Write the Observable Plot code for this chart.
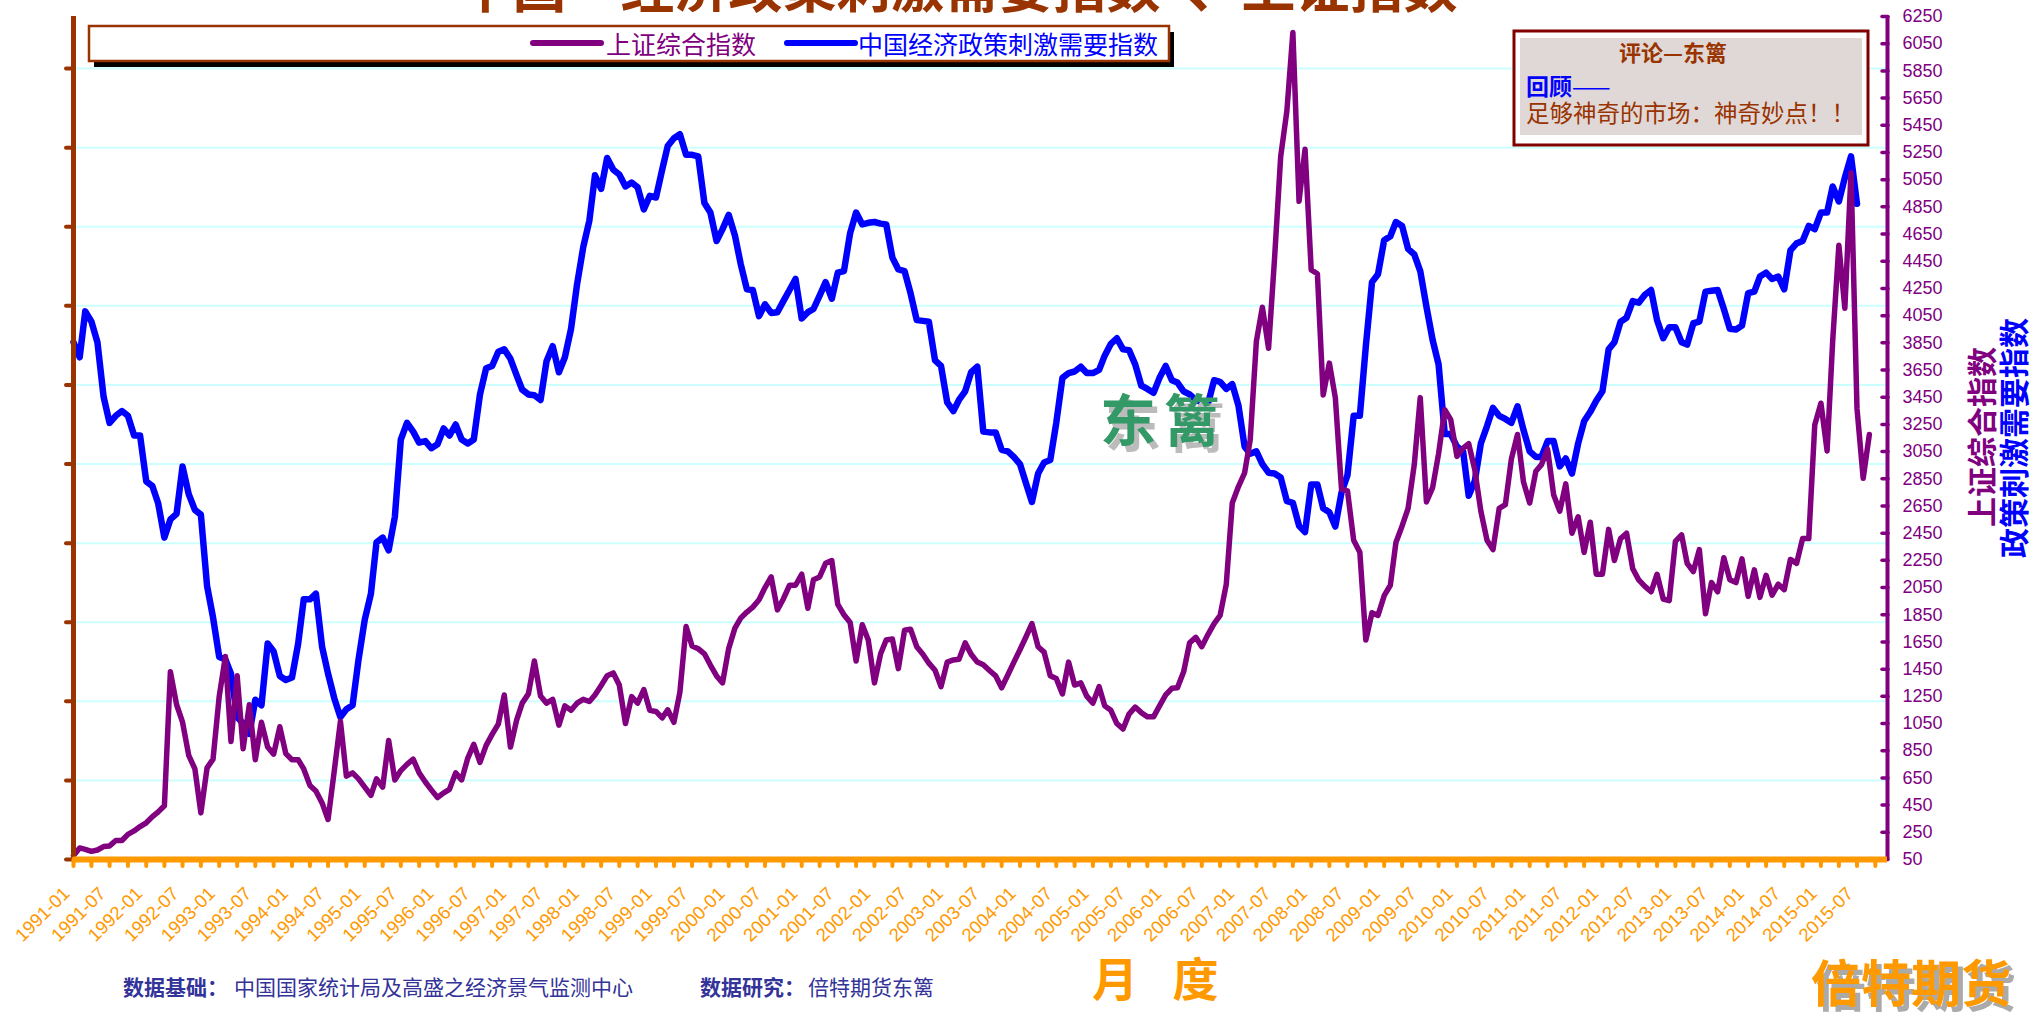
<!DOCTYPE html>
<html><head><meta charset="utf-8">
<script src="https://cdn.jsdelivr.net/npm/d3@7"></script>
<script src="https://cdn.jsdelivr.net/npm/@observablehq/plot@0.6"></script>
<style>
html,body{margin:0;padding:0;background:#fff;}
#chart{position:relative;width:2030px;height:1013px;overflow:hidden;background:#fff;}
</style></head><body><div id="chart"></div>
<script>
// ---------- data ----------
const startMonth = "1991-01";
// 上证综合指数, monthly from 1991-01
const sseValues = [
  80,135,125,110,120,145,150,190,190,235,260,292,
  320,365,400,445,1430,1190,1060,816,716,393,724,788,
  1250,1543,917,1401,865,1188,784,1059,877,825,1026,829,
  784,784,716,595,554,466,344,700,1067,663,687,643,
  582,522,643,582,925,635,704,750,788,687,620,562,
  506,540,566,687,635,796,897,764,889,970,1046,1260,
  877,1075,1200,1268,1510,1252,1200,1228,1038,1180,1147,1200,
  1228,1212,1260,1330,1401,1422,1333,1050,1248,1200,1300,1147,
  1139,1091,1151,1059,1280,1764,1620,1600,1563,1480,1400,1349,
  1603,1752,1825,1870,1906,1960,2050,2128,1886,1966,2067,2067,
  2148,1898,2108,2128,2228,2249,1926,1850,1793,1510,1777,1664,
  1349,1563,1664,1672,1454,1736,1744,1615,1560,1494,1442,1321,
  1502,1518,1522,1643,1560,1502,1482,1440,1401,1313,1407,1500,
  1593,1690,1785,1615,1575,1401,1381,1268,1502,1333,1349,1252,
  1200,1321,1180,1147,1050,1010,1119,1171,1130,1099,1099,1180,
  1260,1309,1313,1430,1643,1684,1615,1704,1785,1845,2075,2672,
  2793,2894,3136,3862,4112,3810,4467,5222,5556,6133,4891,5274,
  4386,4358,3467,3701,3447,2773,2761,2398,2309,1664,1865,1845,
  1990,2067,2382,2503,2632,2954,3447,2680,2785,3035,3358,3285,
  3015,3076,3108,2914,2612,2398,2329,2632,2660,2995,3176,2826,
  2672,2906,2954,3067,2733,2612,2813,2450,2571,2309,2531,2148,
  2148,2478,2249,2410,2450,2188,2107,2059,2019,2148,1966,1954,
  2390,2438,2228,2168,2329,1857,2087,2019,2269,2107,2087,2261,
  1986,2180,1978,2140,1994,2075,2035,2257,2228,2410,2410,3245,
  3406,3055,3862,4568,4104,5101,3366,2854,3176
];
// 中国经济政策刺激需要指数 (left axis, unlabeled), monthly from 1991-01
const policyValues = [
  65.4,63.5,69.3,68.0,65.4,58.5,55.2,56.1,56.7,56.1,53.6,53.6,
  47.8,47.2,45.0,40.7,43.0,43.7,49.7,46.2,44.2,43.6,34.6,30.6,
  25.6,25.3,23.5,18.0,17.2,15.9,20.2,19.5,27.3,26.3,23.2,22.7,
  23.0,27.3,32.9,32.9,33.6,26.9,23.5,20.4,18.0,19.0,19.5,25.3,
  30.3,33.6,40.1,40.7,39.1,43.3,53.1,55.2,54.1,52.7,52.9,52.0,
  52.5,54.5,53.6,55.0,53.1,52.6,53.1,58.8,62.1,62.4,64.2,64.5,
  63.3,61.2,59.4,58.8,58.7,58.1,63.0,64.9,61.6,63.5,67.1,72.7,
  77.4,80.8,86.5,84.8,88.7,87.2,86.6,85.1,85.6,85.0,82.2,83.9,
  83.7,87.2,90.2,91.2,91.7,89.1,89.1,88.9,83.0,81.8,78.2,79.7,
  81.5,78.9,75.3,72.1,72.0,68.7,70.2,69.1,69.2,70.6,72.0,73.4,
  68.4,69.2,69.6,71.3,73.0,70.9,74.2,74.4,79.2,81.8,80.3,80.5,
  80.6,80.4,80.3,76.1,74.6,74.4,71.6,68.2,68.1,68.0,63.1,62.4,
  57.8,56.7,58.1,59.2,61.6,62.3,54.1,54.0,54.0,51.8,51.6,50.9,
  50.0,47.5,45.2,48.8,50.2,50.5,55.2,60.9,61.5,61.7,62.3,61.5,
  61.5,61.9,63.7,65.2,65.9,64.5,64.4,62.6,59.9,59.5,59.0,60.9,
  62.4,60.6,60.3,59.2,58.8,58.1,57.8,57.6,60.6,60.4,59.5,60.1,
  57.4,52.2,51.3,51.6,50.0,48.9,48.8,48.3,45.3,45.1,42.2,41.4,
  47.4,47.4,44.4,43.9,42.1,46.4,48.6,56.1,56.1,64.9,73.0,74.0,
  78.3,78.8,80.6,80.1,77.2,76.5,74.4,69.9,65.7,62.6,53.8,53.8,
  52.2,51.6,46.0,47.9,52.6,54.8,57.1,56.1,55.7,55.2,57.3,54.3,
  51.6,50.9,50.9,52.9,52.9,49.7,50.7,48.8,52.6,55.4,56.6,58.0,
  59.2,64.5,65.4,68.0,68.5,70.6,70.4,71.4,72.0,68.2,65.9,67.3,
  67.3,65.4,65.1,67.8,68.0,71.8,71.9,72.0,69.6,67.1,67.0,67.5,
  71.6,71.8,73.7,74.2,73.4,73.7,72.1,77.0,77.9,78.2,80.1,79.7,
  81.8,81.8,85.1,83.2,86.2,88.9,82.9
];
const tickLabels = [
  "1991-01","1991-07","1992-01","1992-07","1993-01","1993-07","1994-01","1994-07",
  "1995-01","1995-07","1996-01","1996-07","1997-01","1997-07","1998-01","1998-07",
  "1999-01","1999-07","2000-01","2000-07","2001-01","2001-07","2002-01","2002-07",
  "2003-01","2003-07","2004-01","2004-07","2005-01","2005-07","2006-01","2006-07",
  "2007-01","2007-07","2008-01","2008-07","2009-01","2009-07","2010-01","2010-07",
  "2011-01","2011-07","2012-01","2012-07","2013-01","2013-07","2014-01","2014-07",
  "2015-01","2015-07"
];
const rightTicks = [50,250,450,650,850,1050,1250,1450,1650,1850,2050,2250,2450,2650,2850,3050,
  3250,3450,3650,3850,4050,4250,4450,4650,4850,5050,5250,5450,5650,5850,6050,6250];
const leftTicks = [0,10,20,30,40,50,60,70,80,90,100];
const endMonth = "2015-12";

// ---------- tables ----------
const parseMonth = d3.utcParse("%Y-%m");
const t0 = parseMonth(startMonth);
const t1 = parseMonth(endMonth);
const leftToRight = v => 50 + v * 58.17;  // left (unlabeled) axis -> right axis units
const sseTable = sseValues.map((v, i) => ({date: d3.utcMonth.offset(t0, i), value: v}));
const policyTable = policyValues.map((v, i) => ({date: d3.utcMonth.offset(t0, i), value: leftToRight(v)}));
const labelDates = tickLabels.map(parseMonth);
const quarterDates = d3.utcMonth.every(3).range(t0, t1);
const leftTickPos = leftTicks.map(leftToRight);

const LAT = "Liberation Sans, Arial, sans-serif";
const CJK = "Noto Sans CJK SC, sans-serif";

const W = 2030, H = 1013;
const chart = Plot.plot({
  width: W, height: H,
  marginLeft: 73, marginRight: 143, marginTop: 16, marginBottom: 154,
  style: {background: "#fff", fontFamily: LAT, overflow: "visible"},
  x: {type: "utc", domain: [t0, t1], axis: null},
  y: {domain: [50, 6250], axis: null},
  marks: [
    Plot.gridY(leftTickPos, {stroke: "#CCFFFF", strokeOpacity: 1, strokeWidth: 2}),
    Plot.line(policyTable, {x: "date", y: "value", stroke: "#0000FF", strokeWidth: 6.5, strokeLinejoin: "round", strokeLinecap: "round"}),
    Plot.line(sseTable, {x: "date", y: "value", stroke: "#800080", strokeWidth: 5.5, strokeLinejoin: "round", strokeLinecap: "round"}),
    // left axis (no labels)
    Plot.ruleX([t0], {y1: 50, y2: 6250, stroke: "#993300", strokeWidth: 5}),
    Plot.axisY(leftTickPos, {anchor: "left", tickSize: 7, tickFormat: () => "", stroke: "#993300", strokeWidth: 4, strokeLinecap: "round", label: null}),
    // right axis
    Plot.ruleX([t1], {y1: 50, y2: 6250, stroke: "#800080", strokeWidth: 4}),
    Plot.axisY(rightTicks, {anchor: "right", tickSize: -6, tickPadding: 21, stroke: "#800080", fill: "#800080", strokeWidth: 3.5, strokeLinecap: "round", fontSize: 18, tickFormat: d => String(d), label: null}),
    // x axis
    Plot.axisX(quarterDates, {anchor: "bottom", tickSize: 7, tickFormat: () => "", stroke: "#FF9900", strokeWidth: 4, strokeLinecap: "round", label: null}),
    Plot.ruleY([50], {stroke: "#FF9900", strokeWidth: 6}),
    Plot.axisX(labelDates, {anchor: "bottom", tickSize: 0, tickPadding: 31, dx: -7, tickRotate: -45, tickFormat: d3.utcFormat("%Y-%m"), fill: "#FF9900", fontSize: 18.5, label: null})
  ]
});
document.getElementById("chart").appendChild(chart);

// ---------- decorations (title, legend, notes) ----------
const svg = d3.select(chart);
const g = svg.append("g").attr("text-anchor", "start");

// cut-off title at top
g.append("text").attr("x", 958).attr("y", 8).attr("text-anchor", "middle")
  .attr("font-family", CJK).attr("font-weight", "bold").attr("font-size", 54)
  .attr("fill", "#993300").text("中国‘经济政策刺激需要指数’、上证指数");

// legend
g.append("rect").attr("x", 94).attr("y", 32).attr("width", 1080).attr("height", 35).attr("fill", "#000");
g.append("rect").attr("x", 89).attr("y", 26).attr("width", 1080).attr("height", 35)
  .attr("fill", "#fff").attr("stroke", "#993300").attr("stroke-width", 2.5);
const legendItems = [
  {x1: 533, x2: 601, tx: 606, color: "#800080", label: "上证综合指数"},
  {x1: 787, x2: 855, tx: 858, color: "#0000FF", label: "中国经济政策刺激需要指数"}
];
legendItems.forEach(d => {
  g.append("line").attr("x1", d.x1).attr("x2", d.x2).attr("y1", 43).attr("y2", 43)
    .attr("stroke", d.color).attr("stroke-width", 6).attr("stroke-linecap", "round");
  g.append("text").attr("x", d.tx).attr("y", 43).attr("dominant-baseline", "central")
    .attr("font-family", CJK).attr("font-size", 25).attr("fill", d.color).text(d.label);
});

// comment box
g.append("rect").attr("x", 1514).attr("y", 31).attr("width", 354).attr("height", 114)
  .attr("fill", "#fff").attr("stroke", "#800000").attr("stroke-width", 3);
g.append("rect").attr("x", 1520).attr("y", 38).attr("width", 342).attr("height", 97).attr("fill", "#E0D8D6");
g.append("text").attr("x", 1673).attr("y", 61).attr("text-anchor", "middle")
  .attr("font-family", CJK).attr("font-weight", "bold").attr("font-size", 22).attr("fill", "#993300").text("评论—东篱");
const rv = g.append("text").attr("x", 1526).attr("y", 95).attr("font-family", CJK).attr("font-size", 23).attr("fill", "#0000FF");
rv.append("tspan").attr("font-weight", "bold").text("回顾");
rv.append("tspan").text("——");
g.append("text").attr("x", 1526).attr("y", 122).attr("font-family", CJK).attr("font-size", 23.5)
  .attr("fill", "#993300").text("足够神奇的市场：神奇妙点！！");

// right axis titles (vertical)
g.append("text").attr("transform", "translate(1980,437) rotate(-90)").attr("text-anchor", "middle")
  .attr("dominant-baseline", "central").attr("font-family", CJK).attr("font-weight", "bold")
  .attr("font-size", 30).attr("fill", "#800080").text("上证综合指数");
g.append("text").attr("transform", "translate(2012,438) rotate(-90)").attr("text-anchor", "middle")
  .attr("dominant-baseline", "central").attr("font-family", CJK).attr("font-weight", "bold")
  .attr("font-size", 30).attr("fill", "#0000FF").text("政策刺激需要指数");

// watermark 东篱
[["#BBBBBB", 5, 6], ["#339966", 0, 0]].forEach(([c, dx, dy]) => {
  g.append("text").attr("x", 1100 + dx).attr("y", 416 + dy).attr("dominant-baseline", "central")
    .attr("font-family", CJK).attr("font-weight", "bold").attr("font-size", 56)
    .attr("letter-spacing", 8).attr("fill", c).text("东篱");
});

// x axis title
g.append("text").attr("x", 1092).attr("y", 976).attr("dominant-baseline", "central")
  .attr("font-family", CJK).attr("font-weight", "bold").attr("font-size", 46)
  .attr("letter-spacing", 12).attr("fill", "#FF9900").text("月 度");

// footer
const foot = [
  {x: 123, bold: true, t: "数据基础："},
  {x: 234, bold: false, t: "中国国家统计局及高盛之经济景气监测中心"},
  {x: 700, bold: true, t: "数据研究："},
  {x: 808, bold: false, t: "倍特期货东篱"}
];
foot.forEach(d => {
  g.append("text").attr("x", d.x).attr("y", 986).attr("dominant-baseline", "central")
    .attr("font-family", CJK).attr("font-weight", d.bold ? "bold" : "normal")
    .attr("font-size", 21).attr("fill", "#333399").text(d.t);
});

// logo
[["#AAAAAA", 5, 5], ["#FF9900", 0, 0]].forEach(([c, dx, dy]) => {
  g.append("text").attr("x", 1811 + dx).attr("y", 980 + dy).attr("dominant-baseline", "central")
    .attr("font-family", CJK).attr("font-weight", "bold").attr("font-size", 50)
    .attr("fill", c).text("倍特期货");
});
</script>
</body></html>
